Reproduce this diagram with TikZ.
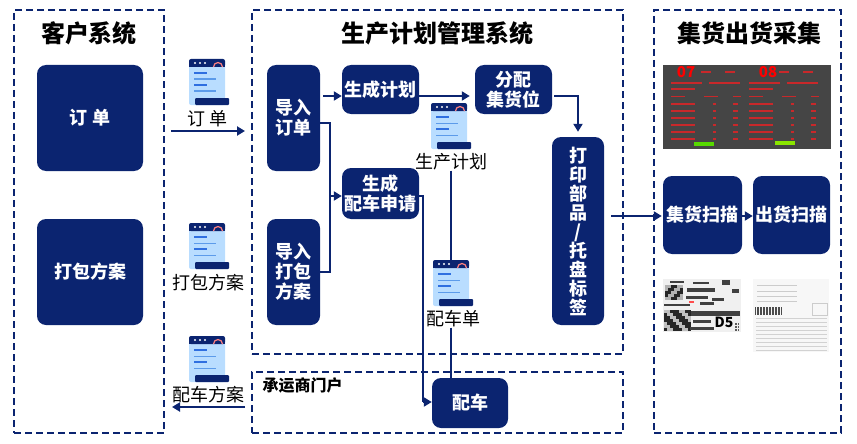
\documentclass[tikz,border=0pt]{standalone}
\usepackage{fontspec}
\setmainfont{Noto Sans CJK SC}
\usetikzlibrary{calc,arrows.meta}
\definecolor{navy}{HTML}{0B2470}
\definecolor{sheet}{HTML}{B9DDFF}
\definecolor{inkline}{HTML}{2F6FE0}
\definecolor{softline}{HTML}{5C9BEA}
\definecolor{panel}{HTML}{454545}
\definecolor{boardred}{HTML}{C8282A}
\tikzset{
    frame/.style={draw=navy,line width=2pt,dash pattern=on 7pt off 4pt},
    bluebox/.style={draw=none,fill=navy,rounded corners=9pt,text=white,align=center,inner sep=0pt,font=\fontsize{18}{20}\selectfont\bfseries},
    title/.style={font=\fontsize{24}{28}\selectfont\bfseries},
    caption/.style={font=\fontsize{18}{22}\selectfont,inner sep=0pt},
    flow/.style={draw=navy,line width=2pt,-{Stealth[length=8pt,width=9pt,inset=0pt]}},
    wire/.style={draw=navy,line width=2pt},
    docicon/.pic={
        \fill[sheet,rounded corners=2pt] (0,4) rectangle (36,46);
        \fill[navy,rounded corners=2pt] (0,0) rectangle (36,8);
        \fill[navy] (0,5) rectangle (36,8);
        \fill[navy,rounded corners=1pt] (6,39) rectangle (40,46);
        \draw[red!50!white,line width=1.2pt] (24.5,8) arc (180:360:4.5);
        \foreach \dotx in {6,11,16} \fill[white] (\dotx,4) circle (1.1);
        \fill[inkline] (5,13) rectangle (18,15);
        \fill[softline] (5,19.5) rectangle (27,21);
        \fill[inkline] (5,25) rectangle (18,27);
        \fill[softline] (5,31.5) rectangle (27,33);
        \coordinate (-top) at (18,0);
    }
}
\begin{document}
\begin{tikzpicture}[x=1pt,y=-1pt]
    \useasboundingbox (0,0) rectangle (857,444);

    \node[frame,minimum width=150,minimum height=423] (customer) at (89,221.5) {};
    \node[frame,minimum width=371,minimum height=344] (planning) at (437.5,182) {};
    \node[frame,minimum width=371,minimum height=61] (carrier) at (437.5,402.5) {};
    \node[frame,minimum width=187,minimum height=423] (shipping) at (747.5,221.5) {};

    \node[title] (customertitle) at (89,33) {客户系统};
    \node[title] (planningtitle) at (437.5,33) {生产计划管理系统};
    \node[title] (shippingtitle) at (749,33) {集货出货采集};
    \node[font=\fontsize{16}{18}\selectfont\bfseries,inner sep=0pt] (carriertitle) at (302.5,385) {承运商门户};

    \node[bluebox,minimum width=106,minimum height=106] (order) at (90,118) {订 单};
    \node[bluebox,minimum width=106,minimum height=106] (packing) at (90,272) {打包方案};
    \node[bluebox,minimum width=53,minimum height=106] (importorder) at (293.5,118) {导入\\订单};
    \node[bluebox,minimum width=53,minimum height=106] (importpacking) at (293.5,272) {导入\\打包\\方案};
    \node[bluebox,minimum width=77,minimum height=49] (makeplan) at (380.5,89.5) {生成计划};
    \node[bluebox,minimum width=77,minimum height=49] (assign) at (513.5,89.5) {分配\\集货位};
    \node[bluebox,minimum width=77,minimum height=51] (apply) at (380.5,193.5) {生成\\配车申请};
    \node[bluebox,minimum width=52,minimum height=188,font=\fontsize{18}{19}\selectfont\bfseries] (print) at (578,231) {打\\印\\部\\品\\/\\托\\盘\\标\\签};
    \node[bluebox,minimum width=76,minimum height=50] (truck) at (470,403) {配车};
    \node[bluebox,minimum width=79,minimum height=78] (collect) at (702.5,215) {集货扫描};
    \node[bluebox,minimum width=77,minimum height=78] (ship) at (791.5,215) {出货扫描};

    \pic (orderdoc) at (189,59) {docicon};
    \pic (packingdoc) at (189,223) {docicon};
    \pic (truckplandoc) at (189,336) {docicon};
    \pic (plandoc) at (431,103) {docicon};
    \pic (truckdoc) at (433,260) {docicon};

    \node[caption] (orderlabel) at (208,119) {订 单};
    \node[caption] (packinglabel) at (208,283) {打包方案};
    \node[caption] (truckplanlabel) at (208,395) {配车方案};
    \node[caption] (planlabel) at (451,162) {生产计划};
    \node[caption] (trucklabel) at (453,319) {配车单};

    \coordinate (orderout) at (171,131);
    \coordinate (orderin) at (245,131);
    \coordinate (truckout) at (245,407);
    \coordinate (truckin) at (172,407);
    \coordinate (merge) at (330,196);
    \coordinate (applyturn) at (423,402);

    \draw[flow] (orderout) -- (orderin);
    \draw[flow] (truckout) -- (truckin);
    \draw[flow] ([xshift=3pt,yshift=-6.5pt]importorder.east |- makeplan.center) -- ([yshift=-6.5pt]makeplan.west);
    \draw[flow] ([yshift=-6.5pt]makeplan.east) -- ([xshift=-5pt,yshift=-6.5pt]assign.west);
    \draw[wire] ([yshift=-5pt]importorder.east) -| (merge);
    \draw[wire] (importpacking.east) -| (merge);
    \draw[flow] (merge) -- (merge -| apply.west);
    \draw[flow] ([xshift=2pt,yshift=-6.5pt]assign.east) -| ([yshift=5pt]print.north);
    \draw[wire] (apply.east |- merge) -| (applyturn);
    \draw[flow] (applyturn) -- (applyturn -| truck.west);
    \draw[wire] (planlabel.south) -- (planlabel.south |- truckdoc-top);
    \draw[wire] ([xshift=-2pt]trucklabel.south) -- ([xshift=-2pt]trucklabel.south |- truck.north);
    \draw[flow] ([xshift=7pt]print.east |- 0,216) -- ([xshift=-1pt]collect.west |- 0,216);
    \draw[flow] (collect.east |- 0,216) -- (ship.west |- 0,216);

    \fill[panel] (663,65) rectangle (831,149);
    \node[text=red,inner sep=0pt,font=\fontsize{15}{16}\selectfont\bfseries] (boarda) at (686,72) {07};
    \node[text=red,inner sep=0pt,font=\fontsize{15}{16}\selectfont\bfseries] (boardb) at (768,72) {08};
    \foreach \boardx in {671,749} {
        \fill[boardred] (\boardx+30,71) rectangle +(10,1.6);
        \fill[boardred] (\boardx+54,71) rectangle +(10,1.6);
        \fill[boardred] (\boardx,82.5) rectangle +(31,1.6);
        \fill[boardred] (\boardx+38,82.5) rectangle +(31,1.6);
        \fill[boardred] (\boardx,88.5) rectangle +(24,1.6);
        \fill[boardred] (\boardx,95.5) rectangle +(14,1.6);
        \fill[boardred] (\boardx+33,95.5) rectangle +(14,1.6);
        \fill[boardred] (\boardx+62,95.5) rectangle +(8,1.6);
        \foreach \boardy in {103,110,117,124,131,138} {
            \fill[boardred] (\boardx,\boardy) rectangle +(24,1.6);
            \fill[boardred] (\boardx+42,\boardy) rectangle +(3,1.6);
            \fill[boardred] (\boardx+62,\boardy) rectangle +(5,1.6);
        }
    }
    \fill[green!60!yellow!85!black] (694,142) rectangle +(20,4);
    \fill[green!40!yellow!90!black] (775,141) rectangle +(20,4);

    \fill[gray!12] (663,279) rectangle (741,332);
    \foreach \blockx in {664,667,...,688} \foreach \blocky in {310,313,...,329} {
        \pgfmathsetmacro{\blockshade}{mod(\blockx*7+\blocky*13,5)<2.5 ? 85 : 25}
        \fill[black!\blockshade] (\blockx,\blocky) rectangle +(3,3);
    }
    \foreach \blockx in {665,668,...,680} \foreach \blocky in {285,288,...,297} {
        \pgfmathsetmacro{\blockshade}{mod(\blockx*11+\blocky*3,4)<2 ? 85 : 30}
        \fill[black!\blockshade] (\blockx,\blocky) rectangle +(3,3);
    }
    \foreach \blockx/\blocky/\blockw/\blockh in {687/288/28/4,686/296/22/3,712/298/12/3,664/304/26/2,700/302/14/3,691/311/49/5,693/320/18/3,690/327/24/3,722/280/8/5,732/289/7/4,670/281/14/2,693/282/16/2}
        \fill[black!75] (\blockx,\blocky) rectangle +(\blockw,\blockh);
    \fill[red!70] (689,301) rectangle +(5,2);
    \foreach \blockx in {735,737.5} \foreach \blocky in {323,326,329} \fill[black!65] (\blockx,\blocky) rectangle +(1.8,2);
    \node[inner sep=0pt,font=\fontsize{14}{15}\selectfont\bfseries] (labelcode) at (724,322) {D5};

    \fill[gray!6] (753,279) rectangle (829,352);
    \foreach \slipx in {755,756.5,...,781} \fill[black!70] (\slipx,307) rectangle +(0.9,8);
    \foreach \slipy in {285,291,296,301} \fill[gray!40] (757,\slipy) rectangle +(40,1);
    \foreach \slipy in {318,322,...,350} \fill[gray!35] (756,\slipy) rectangle +(71,1);
    \draw[gray!40] (812,303) rectangle (827,315);
\end{tikzpicture}
\end{document}
